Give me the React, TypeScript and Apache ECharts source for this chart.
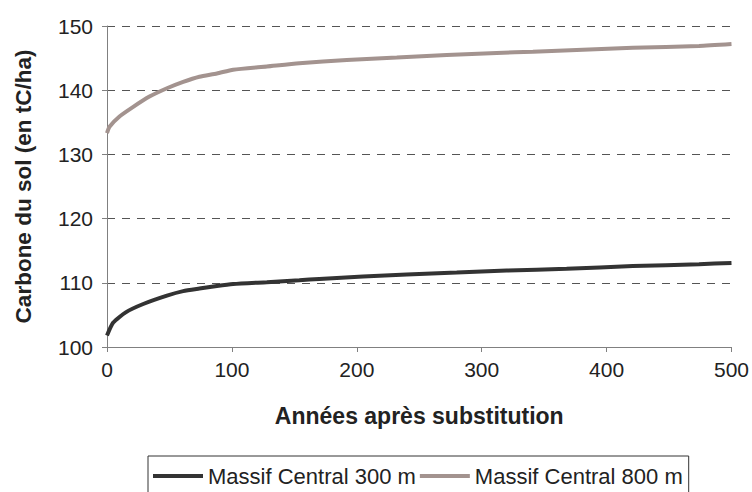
import React, { useEffect, useRef } from "react";
import * as echarts from "echarts";

const xTicks = [0, 100, 200, 300, 400, 500];
const yTicks = [100, 110, 120, 130, 140, 150];

const years300 = [0, 5, 15, 29, 48, 61, 74, 88, 101, 128, 154, 170, 205, 240, 280, 320, 368, 421, 474, 500];
const vals300 = [101.8, 103.8, 105.4, 106.7, 108.0, 108.7, 109.1, 109.5, 109.8, 110.1, 110.4, 110.6, 111.0, 111.3, 111.6, 111.9, 112.2, 112.6, 112.9, 113.1];

const years800 = [0, 2, 10, 21, 34, 48, 61, 74, 88, 101, 128, 154, 192, 232, 272, 312, 341, 381, 421, 474, 500];
const vals800 = [133.3, 134.3, 135.9, 137.4, 139.0, 140.3, 141.3, 142.1, 142.6, 143.2, 143.7, 144.2, 144.7, 145.1, 145.5, 145.8, 146.0, 146.3, 146.6, 146.9, 147.2];

const seriesNames = ["Massif Central 300 m", "Massif Central 800 m"];
const xTitle = "Années après substitution";
const yTitle = "Carbone du sol (en tC/ha)";

const FONT = "'Liberation Sans', Arial, sans-serif";

export default function App() {
  const ref = useRef<HTMLDivElement>(null);
  useEffect(() => {
    if (!ref.current) return;
    const chart = echarts.init(ref.current, undefined, { renderer: "svg" });
    const data300 = years300.map((y, i) => [y, vals300[i]]);
    const data800 = years800.map((y, i) => [y, vals800[i]]);
    chart.setOption({
      animation: false,
      backgroundColor: "#ffffff",
      textStyle: { fontFamily: FONT },
      grid: { left: 107, right: 20, top: 26, bottom: 145, containLabel: false },
      xAxis: {
        type: "value",
        min: xTicks[0],
        max: xTicks[xTicks.length - 1],
        interval: 100,
        name: xTitle,
        nameLocation: "middle",
        nameGap: 57,
        nameTextStyle: { fontSize: 23, fontWeight: "bold", color: "#222", fontFamily: FONT },
        axisLine: { show: true, lineStyle: { color: "#808080", width: 1 } },
        axisTick: { show: true, length: 5, lineStyle: { color: "#808080" } },
        axisLabel: { fontSize: 21, color: "#222", margin: 12, fontFamily: FONT },
        splitLine: { show: false },
      },
      yAxis: {
        type: "value",
        min: yTicks[0],
        max: yTicks[yTicks.length - 1],
        interval: 10,
        name: yTitle,
        nameLocation: "middle",
        nameGap: 72,
        nameTextStyle: { fontSize: 22.5, fontWeight: "bold", color: "#222", fontFamily: FONT },
        axisLine: { show: true, lineStyle: { color: "#808080", width: 1 } },
        axisTick: { show: true, length: 5, lineStyle: { color: "#808080" } },
        axisLabel: { fontSize: 21, color: "#222", margin: 14, fontFamily: FONT },
        splitLine: { show: true, lineStyle: { color: "#555", type: [8, 7], width: 1 } },
      },
      legend: {
        left: 148,
        top: 456,
        orient: "horizontal",
        icon: "rect",
        itemWidth: 50,
        itemHeight: 4,
        itemGap: 4,
        padding: [9, 6, 30, 5],
        borderColor: "#333",
        borderWidth: 1,
        textStyle: { fontSize: 22, color: "#222", fontFamily: FONT },
        data: seriesNames,
      },
      series: [
        {
          name: seriesNames[0],
          type: "line",
          data: data300,
          smooth: 0.2,
          showSymbol: false,
          color: "#333333",
          lineStyle: { width: 4, color: "#333333" },
        },
        {
          name: seriesNames[1],
          type: "line",
          data: data800,
          smooth: 0.2,
          showSymbol: false,
          color: "#a3938f",
          lineStyle: { width: 4, color: "#a3938f" },
        },
      ],
    });
    return () => chart.dispose();
  }, []);
  return (
    <div
      ref={ref}
      style={{ position: "absolute", left: 0, top: 0, width: 752, height: 492 }}
    />
  );
}
